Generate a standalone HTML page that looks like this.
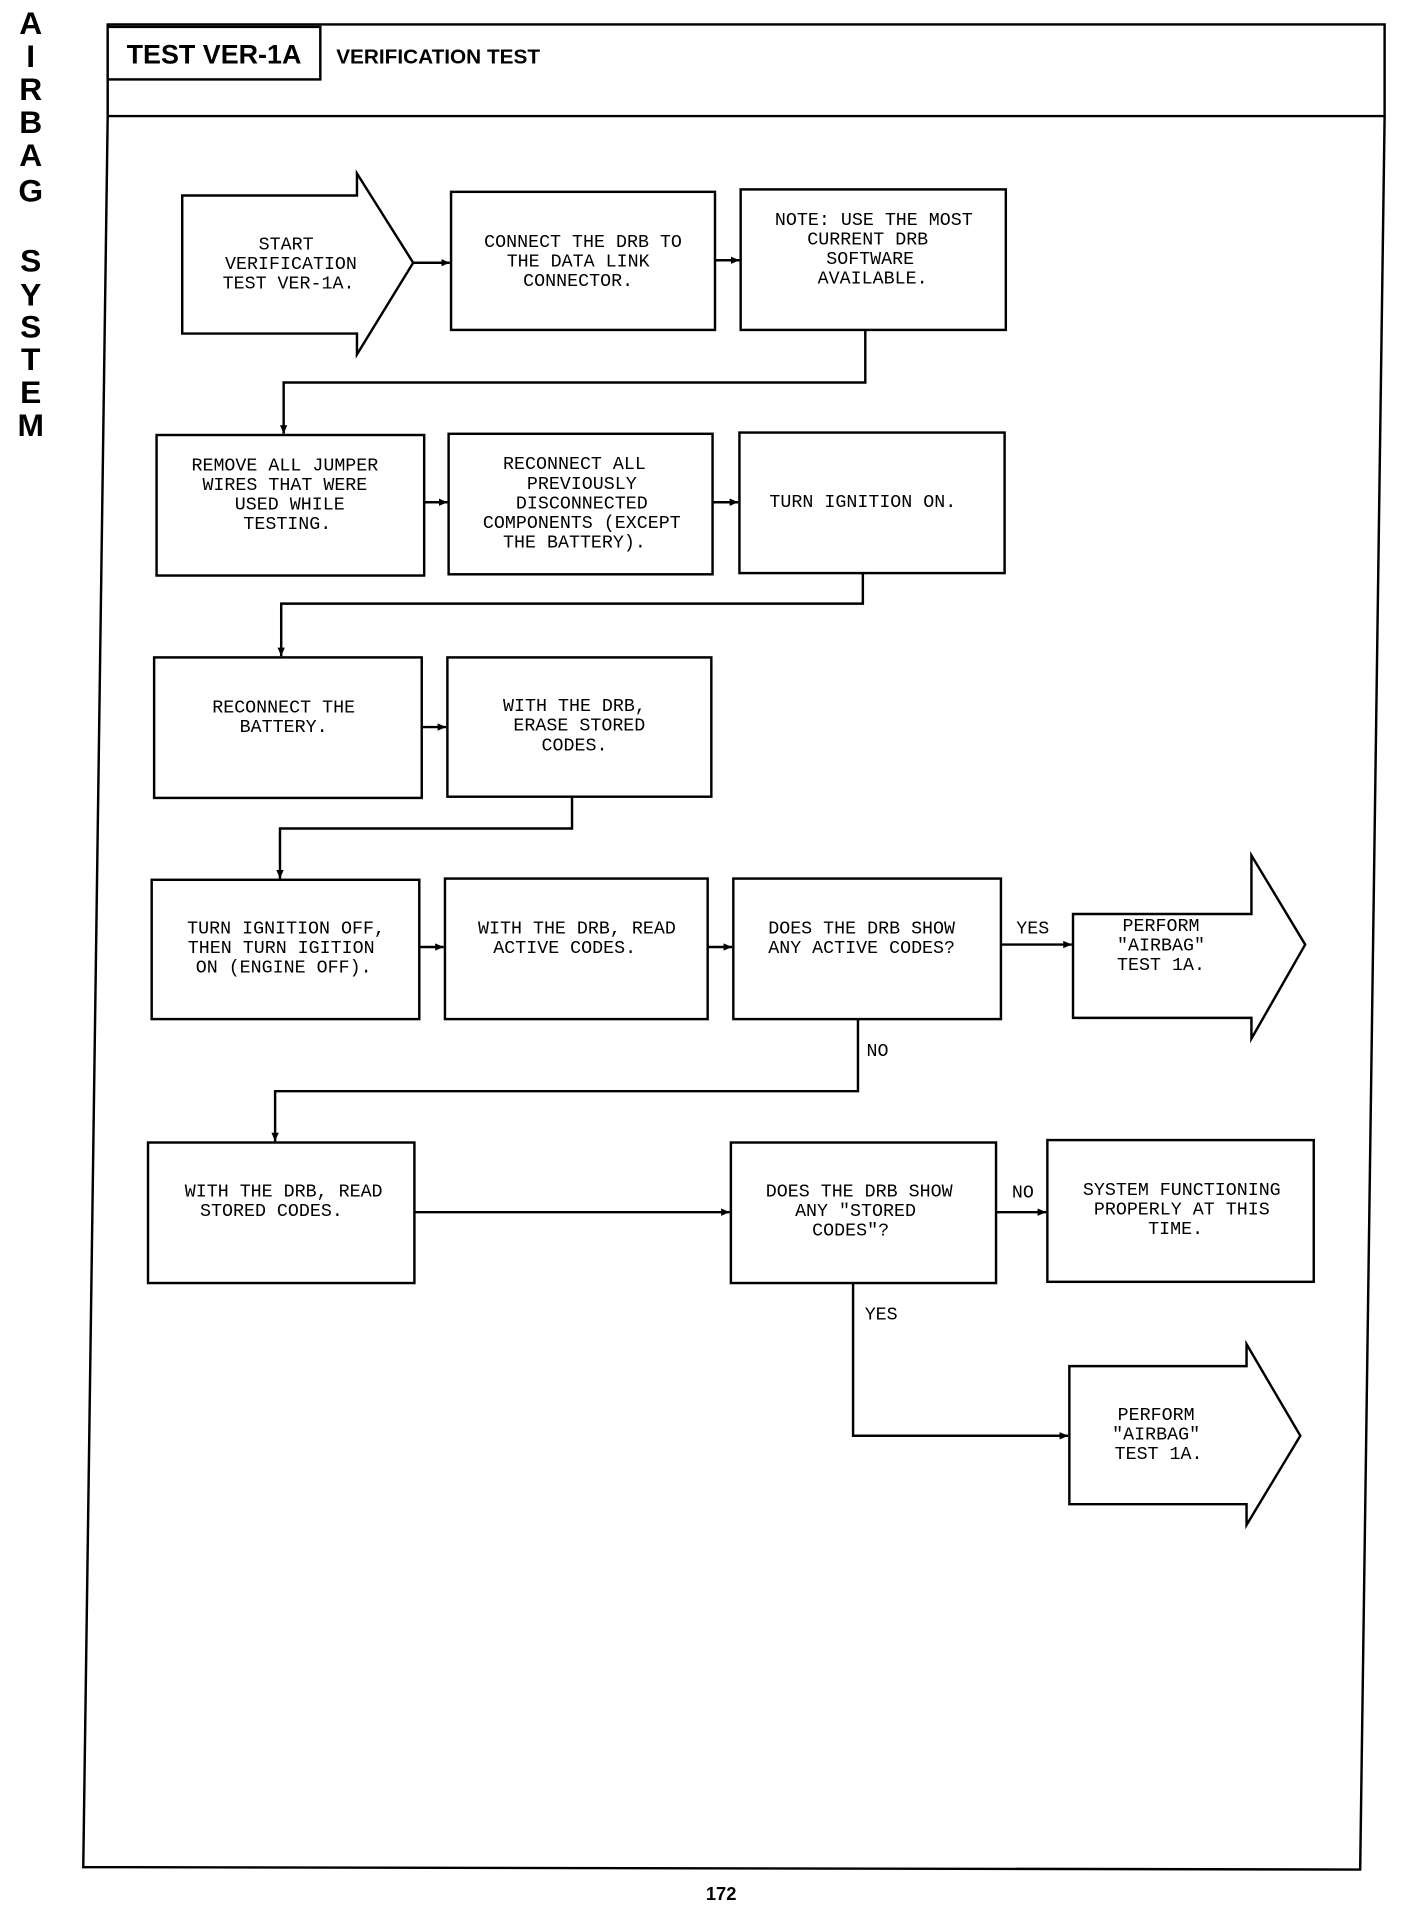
<!DOCTYPE html>
<html><head><meta charset="utf-8"><style>
html,body{margin:0;padding:0;background:#fff;}
svg{display:block;}
.b{fill:#fff;stroke:#000;stroke-width:2;}
.l{fill:none;stroke:#000;stroke-width:2;}
.t{font-family:"Liberation Mono",monospace;font-size:15px;fill:#000;text-anchor:middle;}
.s{font-family:"Liberation Sans",sans-serif;font-weight:bold;font-size:26px;fill:#000;text-anchor:middle;}
</style></head><body>
<svg width="1408" height="1916" viewBox="0 0 1152 1568" xmlns="http://www.w3.org/2000/svg">
<defs><marker id="a" markerWidth="8" markerHeight="8" refX="7" refY="4" orient="auto" markerUnits="userSpaceOnUse"><path d="M0,1 L7,4 L0,7 z" fill="#000"/></marker></defs>
<g class="s">
<text x="25" y="28">A</text><text x="25" y="55">I</text><text x="25" y="82">R</text><text x="25" y="109">B</text><text x="25" y="136">A</text><text x="25" y="165">G</text>
<text x="25" y="222">S</text><text x="25" y="250">Y</text><text x="25" y="276">S</text><text x="25" y="303">T</text><text x="25" y="330">E</text><text x="25" y="357">M</text>
</g>
<path class="l" d="M88,20 L1133,20 L1133,95 L88,95 Z"/>
<path class="l" d="M88,95 L68,1528 L1113,1530 L1133,95"/>
<rect class="b" x="88" y="22" width="174" height="43"/>
<text x="175" y="52" style="font-family:'Liberation Sans',sans-serif;font-weight:bold;font-size:22px;text-anchor:middle">TEST VER-1A</text>
<text x="275" y="52" style="font-family:'Liberation Sans',sans-serif;font-weight:bold;font-size:17px">VERIFICATION TEST</text>

<path class="b" d="M149,160 L292,160 L292,142 L338,215 L292,290 L292,273 L149,273 Z"/>
<text class="t"><tspan x="234" y="204">START</tspan><tspan x="238" y="220">VERIFICATION</tspan><tspan x="236" y="236">TEST VER-1A.</tspan></text>
<rect class="b" x="369" y="157" width="216" height="113"/>
<text class="t"><tspan x="477" y="202">CONNECT THE DRB TO</tspan><tspan x="473" y="218">THE DATA LINK</tspan><tspan x="473" y="234">CONNECTOR.</tspan></text>
<rect class="b" x="606" y="155" width="217" height="115"/>
<text class="t"><tspan x="715" y="184">NOTE: USE THE MOST</tspan><tspan x="710" y="200">CURRENT DRB</tspan><tspan x="712" y="216">SOFTWARE</tspan><tspan x="714" y="232">AVAILABLE.</tspan></text>
<line class="l" x1="338" y1="215" x2="368" y2="215" marker-end="url(#a)"/>
<line class="l" x1="585" y1="213" x2="605" y2="213" marker-end="url(#a)"/>
<path class="l" d="M708,270 L708,313 L232,313 L232,355" marker-end="url(#a)"/>

<rect class="b" x="128" y="356" width="219" height="115"/>
<text class="t"><tspan x="233" y="385">REMOVE ALL JUMPER</tspan><tspan x="233" y="401">WIRES THAT WERE</tspan><tspan x="237" y="417">USED WHILE</tspan><tspan x="235" y="433">TESTING.</tspan></text>
<rect class="b" x="367" y="355" width="216" height="115"/>
<text class="t"><tspan x="470" y="384">RECONNECT ALL</tspan><tspan x="476" y="400">PREVIOUSLY</tspan><tspan x="476" y="416">DISCONNECTED</tspan><tspan x="476" y="432">COMPONENTS (EXCEPT</tspan><tspan x="470" y="448">THE BATTERY).</tspan></text>
<rect class="b" x="605" y="354" width="217" height="115"/>
<text class="t"><tspan x="706" y="415">TURN IGNITION ON.</tspan></text>
<line class="l" x1="347" y1="411" x2="366" y2="411" marker-end="url(#a)"/>
<line class="l" x1="583" y1="411" x2="604" y2="411" marker-end="url(#a)"/>
<path class="l" d="M706,469 L706,494 L230,494 L230,537" marker-end="url(#a)"/>

<rect class="b" x="126" y="538" width="219" height="115"/>
<text class="t"><tspan x="232" y="583">RECONNECT THE</tspan><tspan x="232" y="599">BATTERY.</tspan></text>
<rect class="b" x="366" y="538" width="216" height="114"/>
<text class="t"><tspan x="470" y="582">WITH THE DRB,</tspan><tspan x="474" y="598">ERASE STORED</tspan><tspan x="470" y="614">CODES.</tspan></text>
<line class="l" x1="345" y1="595" x2="365" y2="595" marker-end="url(#a)"/>
<path class="l" d="M468,652 L468,678 L229,678 L229,719" marker-end="url(#a)"/>

<rect class="b" x="124" y="720" width="219" height="114"/>
<text class="t"><tspan x="234" y="764">TURN IGNITION OFF,</tspan><tspan x="230" y="780">THEN TURN IGITION</tspan><tspan x="232" y="796">ON (ENGINE OFF).</tspan></text>
<rect class="b" x="364" y="719" width="215" height="115"/>
<text class="t"><tspan x="472" y="764">WITH THE DRB, READ</tspan><tspan x="462" y="780">ACTIVE CODES.</tspan></text>
<rect class="b" x="600" y="719" width="219" height="115"/>
<text class="t"><tspan x="705" y="764">DOES THE DRB SHOW</tspan><tspan x="705" y="780">ANY ACTIVE CODES?</tspan></text>
<line class="l" x1="343" y1="775" x2="363" y2="775" marker-end="url(#a)"/>
<line class="l" x1="579" y1="775" x2="599" y2="775" marker-end="url(#a)"/>
<line class="l" x1="819" y1="773" x2="877" y2="773" marker-end="url(#a)"/>
<text class="t" x="845" y="764">YES</text>
<path class="b" d="M878,748 L1024,748 L1024,700 L1068,773 L1024,850 L1024,833 L878,833 Z"/>
<text class="t"><tspan x="950" y="762">PERFORM</tspan><tspan x="950" y="778">"AIRBAG"</tspan><tspan x="950" y="794">TEST 1A.</tspan></text>
<path class="l" d="M702,834 L702,893 L225,893 L225,934" marker-end="url(#a)"/>
<text class="t" x="718" y="864">NO</text>

<rect class="b" x="121" y="935" width="218" height="115"/>
<text class="t"><tspan x="232" y="979">WITH THE DRB, READ</tspan><tspan x="222" y="995">STORED CODES.</tspan></text>
<rect class="b" x="598" y="935" width="217" height="115"/>
<text class="t"><tspan x="703" y="979">DOES THE DRB SHOW</tspan><tspan x="700" y="995">ANY "STORED</tspan><tspan x="696" y="1011">CODES"?</tspan></text>
<rect class="b" x="857" y="933" width="218" height="116"/>
<text class="t"><tspan x="967" y="978">SYSTEM FUNCTIONING</tspan><tspan x="967" y="994">PROPERLY AT THIS</tspan><tspan x="962" y="1010">TIME.</tspan></text>
<line class="l" x1="339" y1="992" x2="597" y2="992" marker-end="url(#a)"/>
<line class="l" x1="815" y1="992" x2="856" y2="992" marker-end="url(#a)"/>
<text class="t" x="837" y="980">NO</text>
<path class="l" d="M698,1050 L698,1175 L874,1175" marker-end="url(#a)"/>
<text class="t" x="721" y="1080">YES</text>
<path class="b" d="M875,1118 L1020,1118 L1020,1100 L1064,1175 L1020,1248 L1020,1231 L875,1231 Z"/>
<text class="t"><tspan x="946" y="1162">PERFORM</tspan><tspan x="946" y="1178">"AIRBAG"</tspan><tspan x="948" y="1194">TEST 1A.</tspan></text>

<text x="590" y="1555" style="font-family:'Liberation Sans',sans-serif;font-weight:bold;font-size:15px;text-anchor:middle">172</text>
</svg>
</body></html>
